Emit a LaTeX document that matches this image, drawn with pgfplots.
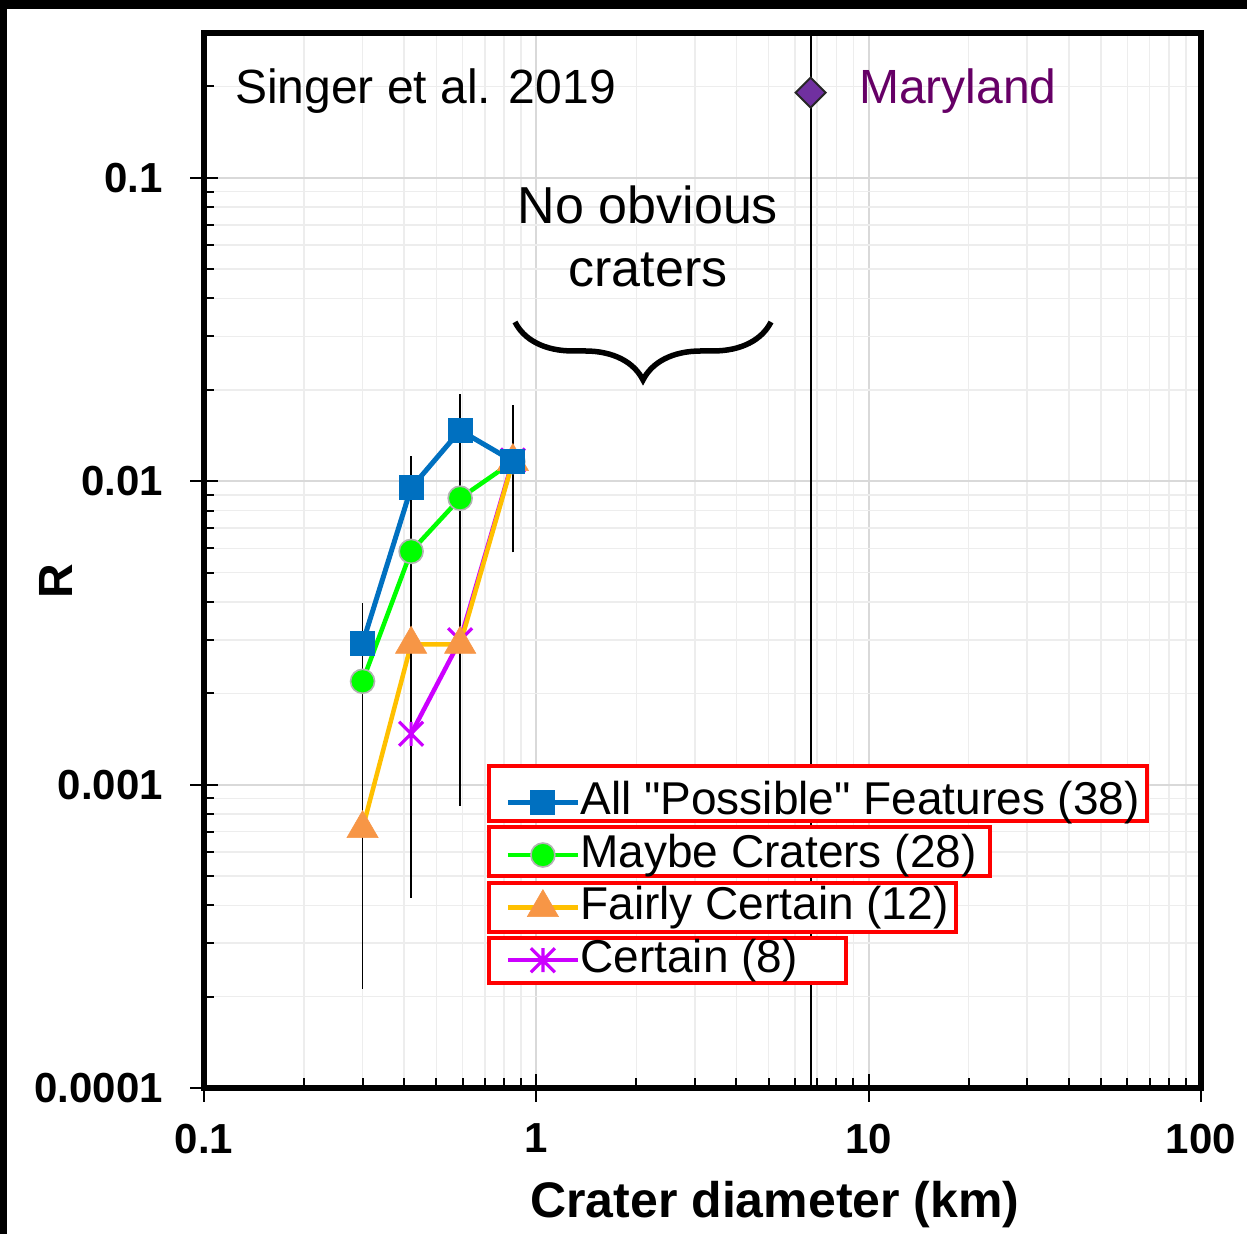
\documentclass[border=0pt]{standalone}
\usepackage{fontspec}
\setmainfont{Liberation Sans}[Ligatures=TeXOff]
\usepackage{pgfplots}
\pgfplotsset{compat=1.18}
\usetikzlibrary{decorations.pathreplacing}

\definecolor{allblue}{HTML}{0070C0}
\definecolor{maybegreen}{HTML}{00FF00}
\definecolor{fairline}{HTML}{FFC000}
\definecolor{fairtri}{HTML}{F79646}
\definecolor{certmag}{HTML}{CC00FF}
\definecolor{mdfill}{HTML}{7030A0}
\definecolor{mdtext}{HTML}{660066}
\definecolor{gridmajor}{HTML}{D9D9D9}
\definecolor{gridminor}{HTML}{EDEDED}

% X with a vertical bar through it
\pgfdeclareplotmark{xstar}{%
  \pgfpathmoveto{\pgfqpoint{-\pgfplotmarksize}{-\pgfplotmarksize}}%
  \pgfpathlineto{\pgfqpoint{\pgfplotmarksize}{\pgfplotmarksize}}%
  \pgfpathmoveto{\pgfqpoint{-\pgfplotmarksize}{\pgfplotmarksize}}%
  \pgfpathlineto{\pgfqpoint{\pgfplotmarksize}{-\pgfplotmarksize}}%
  \pgfpathmoveto{\pgfqpoint{0pt}{-\pgfplotmarksize}}%
  \pgfpathlineto{\pgfqpoint{0pt}{\pgfplotmarksize}}%
  \pgfusepathqstroke}

\pgfplotsset{
  allstyle/.style={allblue, line width=2.5pt, mark=square*, mark size=6pt,
    mark options={fill=allblue, draw=allblue, line width=0.5pt, solid}},
  maybestyle/.style={maybegreen, line width=2.25pt, mark=*, mark size=6pt,
    mark options={fill=maybegreen, draw=black!30, line width=0.8pt, solid}},
  fairstyle/.style={fairline, line width=2.25pt, mark=triangle*, mark size=9pt,
    mark options={fill=fairtri, draw=fairtri, line width=0.3pt, solid}},
  certstyle/.style={certmag, line width=2.25pt, mark=xstar, mark size=6pt,
    mark options={line width=1.6pt, solid}},
  errstyle/.style={black, line width=0.75pt},
}

\begin{document}
\begin{tikzpicture}
\useasboundingbox (-102pt,-73pt) rectangle (521.5pt,544pt);
\fill[black] (-102pt,539.5pt) rectangle (521.5pt,544pt);
\fill[black] (-102pt,-73pt) rectangle (-98.5pt,544pt);

\begin{axis}[
  at={(0pt,0pt)}, anchor=south west,
  scale only axis, width=498.5pt, height=527.5pt,
  xmode=log, ymode=log,
  xmin=0.1, xmax=100, ymin=1e-4, ymax=0.3,
  xtick={0.1,1,10,100}, xticklabels={0.1,1,10,100},
  ytick={1e-4,1e-3,1e-2,1e-1}, yticklabels={0.0001,0.001,0.01,0.1},
  minor xtick={0.2,0.3,0.4,0.5,0.6,0.7,0.8,0.9,2,3,4,5,6,7,8,9,20,30,40,50,60,70,80,90},
  minor ytick={2e-4,3e-4,4e-4,5e-4,6e-4,7e-4,8e-4,9e-4,2e-3,3e-3,4e-3,5e-3,6e-3,7e-3,8e-3,9e-3,2e-2,3e-2,4e-2,5e-2,6e-2,7e-2,8e-2,9e-2,0.2},
  grid=both,
  major grid style={draw=gridmajor, line width=1pt},
  minor grid style={draw=gridminor, line width=0.75pt},
  axis line style={line width=3pt},
  tick style={black, line width=1pt},
  tick align=center,
  major tick length=14pt,
  minor tick length=5pt,
  minor x tick style={yshift=2.5pt},
  minor y tick style={xshift=2.5pt},
  xtick pos=bottom, ytick pos=left,
  ticklabel style={font=\bfseries\fontsize{21}{25}\selectfont},
  yticklabel style={xshift=-10pt},
  xticklabel style={yshift=-7.5pt},
  xlabel={Crater diameter (km)},
  ylabel={R},
  xlabel style={at={(axis description cs:0.5727,-0.1232)}, anchor=base,
    font=\bfseries\fontsize{25}{29}\selectfont},
  ylabel style={at={(axis description cs:-0.1484,0.4806)}, anchor=center,
    font=\bfseries\fontsize{24}{28}\selectfont},
  clip=false,
]
% Certain
\addplot[certstyle] coordinates {(0.42,0.00147) (0.59,0.00299) (0.85,0.0117)};
% Fairly certain
\addplot[fairstyle] coordinates {(0.3,0.000716) (0.42,0.0029) (0.59,0.0029) (0.85,0.0116)};
% Maybe craters
\addplot[maybestyle] coordinates {(0.3,0.00219) (0.42,0.00587) (0.59,0.00879) (0.85,0.0116)};
% All possible features
\addplot[allstyle] coordinates {(0.3,0.00292) (0.42,0.0095) (0.59,0.0147) (0.85,0.01164)};
% Error bars
\addplot[errstyle] coordinates {(0.3,2.12e-4) (0.3,3.96e-3)};
\addplot[errstyle] coordinates {(0.42,4.24e-4) (0.42,1.21e-2)};
\addplot[errstyle] coordinates {(0.59,8.53e-4) (0.59,1.94e-2)};
\addplot[errstyle] coordinates {(0.85,5.83e-3) (0.85,1.78e-2)};
% Maryland crater
\addplot[black, line width=1pt] coordinates {(6.69,1e-4) (6.69,0.3)};
\addplot[only marks, mark=square*, mark size=5.3pt,
  mark options={rotate=45, fill=mdfill, draw=black!85, line width=1pt}]
  coordinates {(6.69,0.1908)};
\end{axis}

% annotations
\node[anchor=base west, font=\fontsize{24}{28}\selectfont] at (12pt,492pt) {Singer et al. 2019};
\node[anchor=base west, font=\fontsize{24}{28}\selectfont, text=mdtext] at (324pt,492pt) {Maryland};
\node[anchor=base, font=\fontsize{26}{30}\selectfont] at (222pt,432pt) {No obvious};
\node[anchor=base, font=\fontsize{26}{30}\selectfont] at (222pt,400.5pt) {craters};
\draw[line width=2.75pt, decorate, decoration={brace, amplitude=29pt}]
  (283.5pt,383pt) -- (155.5pt,383pt);

% legend frames
\filldraw[draw=red, fill=white, line width=2pt] (142.5pt,161pt) rectangle (471.5pt,133.5pt);
\filldraw[draw=red, fill=white, line width=2pt] (142.5pt,130.5pt) rectangle (393pt,106pt);
\filldraw[draw=red, fill=white, line width=2pt] (142.5pt,102.5pt) rectangle (376pt,78pt);
\filldraw[draw=red, fill=white, line width=2pt] (142.5pt,75pt) rectangle (321pt,52.5pt);

\begin{axis}[
  at={(0pt,0pt)}, anchor=south west,
  scale only axis, width=498.5pt, height=527.5pt,
  hide axis, xmin=0, xmax=1, ymin=0, ymax=1,
  legend cell align=left,
  legend image code/.code={\draw[mark repeat=2,mark phase=2,#1]
    plot coordinates {(0pt,0pt) (17.5pt,0pt) (35pt,0pt)};},
  legend style={at={(axis description cs:0.3019,0.2919)}, anchor=north west,
    draw=none, fill=none, inner sep=0pt, row sep=4.3pt, column sep=0pt,
    font=\fontsize{23}{27}\selectfont,
    nodes={inner sep=0pt, text height=17pt, text depth=5pt}},
]
\addlegendimage{allstyle}
\addlegendentry{All "Possible" Features (38)}
\addlegendimage{maybestyle}
\addlegendentry{Maybe Craters (28)}
\addlegendimage{fairstyle}
\addlegendentry{Fairly Certain (12)}
\addlegendimage{certstyle}
\addlegendentry{Certain (8)}
\end{axis}
\end{tikzpicture}
\end{document}
